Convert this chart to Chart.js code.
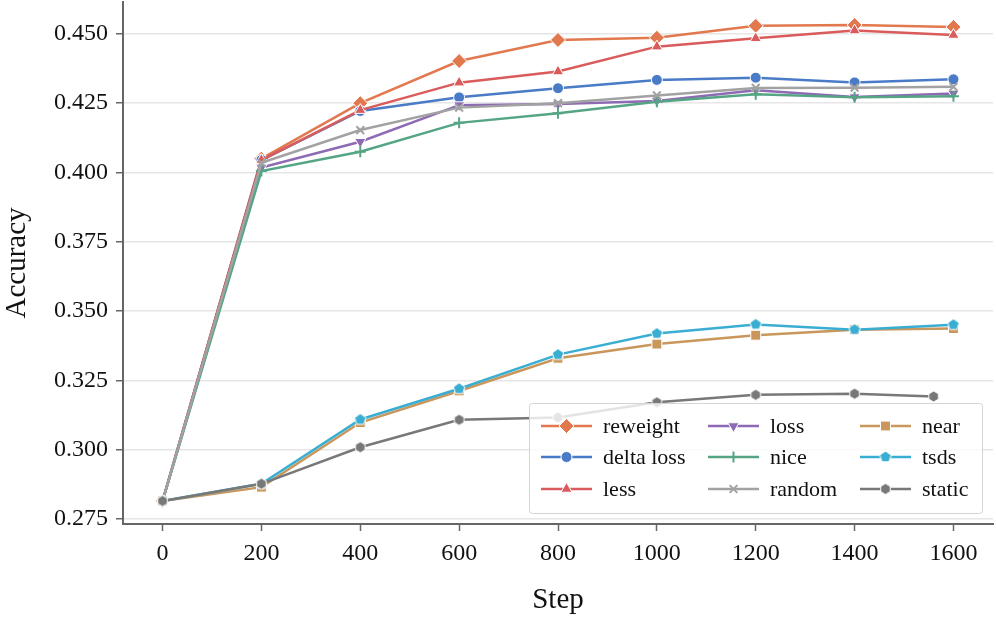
<!DOCTYPE html>
<html lang="en">
<head>
    <meta charset="UTF-8">
    <title>Accuracy vs Step</title>
    <script src="https://cdn.jsdelivr.net/npm/chart.js@4.4.0/dist/chart.umd.min.js"></script>
    <style>
        body { margin: 0; background: #fff; }
    </style>
</head>
<body>
    <canvas id="myChart" width="996" height="618"></canvas>

    <script type="text/javascript">
        // data
        var steps = [0, 200, 400, 600, 800, 1000, 1200, 1400, 1600];
        var staticSteps = [0, 200, 400, 600, 800, 1000, 1200, 1400, 1560];

        var reweight  = [0.2815, 0.4050, 0.4250, 0.4402, 0.4478, 0.4486, 0.4529, 0.4532, 0.4525];
        var deltaLoss = [0.2815, 0.4045, 0.4222, 0.4271, 0.4304, 0.4334, 0.4342, 0.4325, 0.4336];
        var less      = [0.2815, 0.4045, 0.4225, 0.4324, 0.4364, 0.4454, 0.4484, 0.4512, 0.4496];
        var loss      = [0.2815, 0.4018, 0.4111, 0.4243, 0.4247, 0.4258, 0.4297, 0.4272, 0.4285];
        var nice      = [0.2815, 0.4005, 0.4075, 0.4179, 0.4214, 0.4255, 0.4282, 0.4271, 0.4275];
        var random    = [0.2815, 0.4035, 0.4153, 0.4234, 0.4250, 0.4278, 0.4305, 0.4306, 0.4309];
        var near      = [0.2815, 0.2865, 0.3098, 0.3212, 0.3330, 0.3381, 0.3413, 0.3433, 0.3437];
        var tsds      = [0.2815, 0.2877, 0.3109, 0.3220, 0.3343, 0.3419, 0.3452, 0.3433, 0.3451];
        var staticAcc = [0.2815, 0.2877, 0.3009, 0.3108, 0.3116, 0.3171, 0.3198, 0.3202, 0.3192];

        var xTicks = [0, 200, 400, 600, 800, 1000, 1200, 1400, 1600];
        var yTicks = [0.275, 0.300, 0.325, 0.350, 0.375, 0.400, 0.425, 0.450];

        var FONT = "'Liberation Serif', 'Times New Roman', serif";

        // small polygon markers (pentagon / hexagon) drawn into canvases
        function polyMarker(sides, r, color, startAngle) {
            var size = Math.ceil(2 * r + 4);
            var c = document.createElement('canvas');
            c.width = size; c.height = size;
            var g = c.getContext('2d');
            g.beginPath();
            for (var i = 0; i < sides; i++) {
                var a = startAngle + i * 2 * Math.PI / sides;
                var px = size / 2 + r * Math.cos(a);
                var py = size / 2 + r * Math.sin(a);
                if (i === 0) g.moveTo(px, py); else g.lineTo(px, py);
            }
            g.closePath();
            g.fillStyle = color;
            g.fill();
            g.strokeStyle = '#fff';
            g.lineWidth = 1;
            g.stroke();
            return c;
        }

        function series(label, xs, ys, color, style, radius, rot, lined) {
            return {
                label: label,
                data: xs.map(function (x, i) { return {x: x, y: ys[i]}; }),
                borderColor: color,
                backgroundColor: color,
                borderWidth: 2.5,
                pointStyle: style,
                pointRadius: radius,
                pointRotation: rot || 0,
                pointBackgroundColor: color,
                pointBorderColor: lined ? color : '#fff',
                pointBorderWidth: lined ? 2 : 1,
                tension: 0
            };
        }

        var cTsds = '#3aaed2';
        var cStatic = '#787878';

        var datasets = [
            series('reweight', steps, reweight, '#e2784e', 'rectRot', 7.5),
            series('delta loss', steps, deltaLoss, '#4a7bc6', 'circle', 5.5),
            series('less', steps, less, '#da5b5b', 'triangle', 6.5),
            series('loss', steps, loss, '#8d6ab3', 'triangle', 6.5, 180),
            series('nice', steps, nice, '#55a585', 'cross', 5.5, 0, true),
            series('random', steps, random, '#a2a2a2', 'crossRot', 5.5, 0, true),
            series('near', steps, near, '#c9965c', 'rect', 7),
            series('tsds', steps, tsds, cTsds, polyMarker(5, 6, cTsds, -Math.PI / 2), 6),
            series('static', staticSteps, staticAcc, cStatic, polyMarker(6, 5.5, cStatic, -Math.PI / 2), 6)
        ];
        // later series on top, like the original
        datasets.forEach(function (d, i) { d.order = datasets.length - i; });

        // legend drawn inside the plot, three columns
        var innerLegend = {
            id: 'innerLegend',
            afterDraw: function (chart) {
                var ctx = chart.ctx;
                var ca = chart.chartArea;
                var w = 453, h = 110;
                var x0 = ca.right - 11 - w;
                var y0 = ca.bottom - 11 - h;
                ctx.save();
                ctx.fillStyle = 'rgba(255,255,255,0.8)';
                ctx.strokeStyle = '#d4d4d4';
                ctx.lineWidth = 1;
                ctx.beginPath();
                if (ctx.roundRect) ctx.roundRect(x0 + 0.5, y0 + 0.5, w, h, 3);
                else ctx.rect(x0 + 0.5, y0 + 0.5, w, h);
                ctx.fill();
                ctx.stroke();

                var colX = [12, 179, 331];
                var rowY = [23, 54, 86];
                var ds = chart.data.datasets;
                ctx.font = '22px ' + FONT;
                ctx.textBaseline = 'alphabetic';
                ctx.textAlign = 'left';
                for (var i = 0; i < ds.length; i++) {
                    var col = Math.floor(i / 3), row = i % 3;
                    var hx = x0 + colX[col], hy = y0 + rowY[row];
                    var d = ds[i];
                    ctx.strokeStyle = d.borderColor;
                    ctx.lineWidth = 2.5;
                    ctx.beginPath();
                    ctx.moveTo(hx, hy);
                    ctx.lineTo(hx + 51, hy);
                    ctx.stroke();
                    ctx.fillStyle = d.pointBackgroundColor;
                    ctx.strokeStyle = d.pointBorderColor;
                    ctx.lineWidth = d.pointBorderWidth;
                    Chart.helpers.drawPoint(ctx, {
                        pointStyle: d.pointStyle,
                        radius: d.pointRadius,
                        rotation: d.pointRotation,
                        borderWidth: d.pointBorderWidth
                    }, hx + 25.5, hy);
                    ctx.fillStyle = '#111';
                    ctx.fillText(d.label, hx + 62, hy + 7);
                }
                ctx.restore();
            }
        };

        var ctx = document.getElementById('myChart').getContext('2d');
        var chart = new Chart(ctx, {
            type: 'line',
            data: { datasets: datasets },
            plugins: [innerLegend],
            options: {
                responsive: false,
                animation: false,
                events: [],
                layout: { autoPadding: false, padding: { top: 2, right: 3, left: 0, bottom: 0 } },
                plugins: {
                    legend: { display: false },
                    tooltip: { enabled: false }
                },
                scales: {
                    x: {
                        type: 'linear',
                        min: -80,
                        max: 1680,
                        afterBuildTicks: function (s) { s.ticks = xTicks.map(function (v) { return {value: v}; }); },
                        afterFit: function (s) { s.height = 94; s.paddingLeft = 0; s.paddingRight = 0; },
                        grid: { drawOnChartArea: false, drawTicks: true, tickLength: 7, tickColor: '#666', tickWidth: 1.5 },
                        border: { display: true, color: '#666', width: 2 },
                        ticks: {
                            color: '#111',
                            font: { family: FONT, size: 24 },
                            padding: 8,
                            maxRotation: 0,
                            autoSkip: false,
                            callback: function (v) { return String(v); }
                        },
                        title: {
                            display: true,
                            text: 'Step',
                            color: '#111',
                            font: { family: FONT, size: 29 },
                            padding: { top: 0, bottom: 0 }
                        }
                    },
                    y: {
                        type: 'linear',
                        min: 0.2732,
                        max: 0.4615,
                        afterBuildTicks: function (s) { s.ticks = yTicks.map(function (v) { return {value: v}; }); },
                        afterFit: function (s) { s.width = 123; s.paddingTop = 0; s.paddingBottom = 0; },
                        grid: { color: '#e6e6e6', lineWidth: 1.5, drawTicks: true, tickLength: 7, tickColor: '#666', tickWidth: 1.5 },
                        border: { display: true, color: '#666', width: 2 },
                        ticks: {
                            color: '#111',
                            font: { family: FONT, size: 24 },
                            padding: 8,
                            callback: function (v) { return Number(v).toFixed(3); }
                        },
                        title: {
                            display: true,
                            text: 'Accuracy',
                            color: '#111',
                            font: { family: FONT, size: 29 },
                            padding: { top: 0, bottom: 0 }
                        }
                    }
                }
            }
        });
    </script>
</body>
</html>
